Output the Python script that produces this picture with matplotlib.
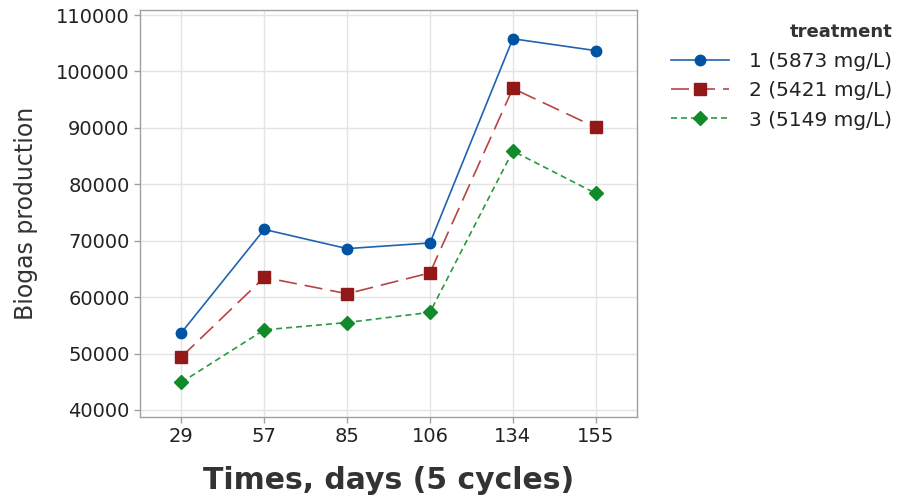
import matplotlib
matplotlib.use("Agg")
import matplotlib.pyplot as plt

days = ["29", "57", "85", "106", "134", "155"]
treatment_labels = ["1 (5873 mg/L)", "2 (5421 mg/L)", "3 (5149 mg/L)"]
biogas_t1 = [53700, 72000, 68600, 69600, 105800, 103700]
biogas_t2 = [49400, 63500, 60600, 64300, 97000, 90100]
biogas_t3 = [44900, 54200, 55500, 57300, 85900, 78400]
y_ticks = [40000, 50000, 60000, 70000, 80000, 90000, 100000, 110000]

plt.rcParams["font.family"] = ["DejaVu Sans"]

fig = plt.figure(figsize=(8.99, 5.0), dpi=100)
ax = fig.add_axes([0.1557, 0.166, 0.553, 0.814])

x = list(range(len(days)))
styles = [
    dict(color="#2063B0", markerfacecolor="#0052A3", markeredgecolor="#0052A3",
         linestyle="-", marker="o", markersize=7.5, lw=1.2),
    dict(color="#B84444", markerfacecolor="#931919", markeredgecolor="#931919",
         linestyle=(0, (10.8, 4.8)), marker="s", markersize=8, lw=1.2),
    dict(color="#2A9A3E", markerfacecolor="#118A2A", markeredgecolor="#118A2A",
         linestyle=(0, (3.6, 2.4)), marker="D", markersize=7, lw=1.2),
]
series = [biogas_t1, biogas_t2, biogas_t3]
handles = []
for vals, st, lab in zip(series, styles, treatment_labels):
    h, = ax.plot(x, vals, label=lab, zorder=3, **st)
    handles.append(h)

ax.set_xlim(-0.5, len(days) - 0.5)
ax.set_ylim(38750, 110900)
ax.set_xticks(x)
ax.set_xticklabels(days)
ax.set_yticks(y_ticks)
ax.grid(True, color="#E4E4E4", lw=1.0, zorder=0)
for s in ax.spines.values():
    s.set_color("#A0A0A0")
    s.set_linewidth(1.0)
ax.tick_params(axis="both", colors="#A0A0A0", labelcolor="#222222",
               labelsize=14, length=4, width=1)

ax.set_ylabel("Biogas production", fontsize=17, color="#333333", labelpad=13)
ax.set_xlabel("Times, days (5 cycles)", fontsize=21.5, color="#333333",
              fontweight="bold", labelpad=14)

leg = fig.legend(handles=handles, title="treatment", loc="upper right",
                 bbox_to_anchor=(1.013, 0.99), frameon=False, fontsize=14.5,
                 title_fontsize=13, handlelength=2.9, labelspacing=0.52,
                 handletextpad=1.0, alignment="right")
leg.get_title().set_fontweight("bold")
leg.get_title().set_color("#333333")
for t in leg.get_texts():
    t.set_color("#222222")

fig.savefig("out.png", dpi=100)
